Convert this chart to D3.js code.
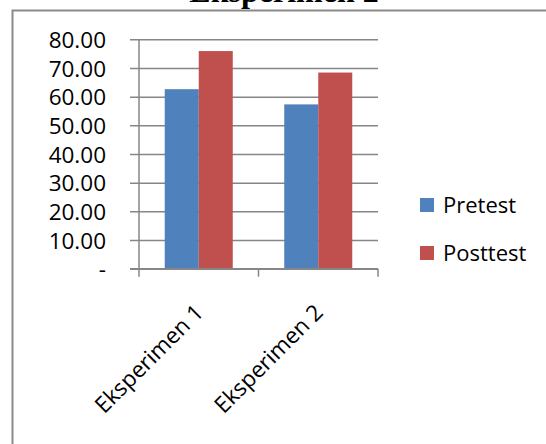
<!DOCTYPE html>
<html>
<head>
<meta charset="utf-8">
<script src="https://cdn.jsdelivr.net/npm/d3@7"></script>
<style>
  html, body { margin: 0; padding: 0; background: #fff; }
  svg { display: block; }
</style>
</head>
<body>
<svg id="chart" width="546" height="444"></svg>
<script>
// Mean scores per experiment group
const categories = ["Eksperimen 1", "Eksperimen 2"];
const seriesNames = ["Pretest", "Posttest"];
const pretest = [62.6, 57.3];
const posttest = [75.9, 68.4];
const yTickValues = [0, 10, 20, 30, 40, 50, 60, 70, 80];
const yTickLabels = ["-", "10.00", "20.00", "30.00", "40.00", "50.00", "60.00", "70.00", "80.00"];
const titleText = "Eksperimen 2";

const colors = { Pretest: "#4F81BD", Posttest: "#C0504D" };
const gridColor = "#868686";
const font = "'Open Sans', 'DejaVu Sans', sans-serif";

const svg = d3.select("#chart");

// outer chart frame
svg.append("rect")
  .attr("x", 12.5).attr("y", 10.5)
  .attr("width", 600).attr("height", 500)
  .attr("fill", "none").attr("stroke", "#8a8a8a").attr("stroke-width", 2);

// title (partly above the page edge)
svg.append("text")
  .attr("x", 284).attr("y", 2)
  .attr("text-anchor", "middle")
  .attr("font-family", "'Liberation Serif', 'Times New Roman', serif")
  .attr("font-weight", "bold").attr("font-size", 32)
  .text(titleText);

const plot = { left: 139, right: 378, top: 39.3, bottom: 268.7 };

const y = d3.scaleLinear().domain([0, 80]).range([plot.bottom, plot.top]);
const x = d3.scaleBand().domain(categories).range([plot.left, plot.right]).padding(0);
const xSub = d3.scaleBand().domain(seriesNames).range([0, x.bandwidth()])
  .paddingInner(0).paddingOuter(0.757);

// y axis with gridlines extending left as tick marks
const yAxis = d3.axisLeft(y)
  .tickValues(yTickValues)
  .tickFormat((d, i) => yTickLabels[i])
  .tickSizeOuter(0)
  .tickPadding(27);
const gy = svg.append("g").attr("transform", `translate(${plot.left},0)`).call(yAxis);
gy.select(".domain").remove();
gy.selectAll(".tick line")
  .attr("x1", -9).attr("x2", plot.right - plot.left)
  .attr("stroke", gridColor).attr("stroke-width", 1.5);
gy.selectAll(".tick text")
  .attr("font-family", font).attr("font-size", 22.5).attr("fill", "#000")
  .attr("dy", "0.36em");

// vertical axis line
svg.append("line")
  .attr("x1", plot.left).attr("x2", plot.left)
  .attr("y1", plot.top).attr("y2", plot.bottom + 8)
  .attr("stroke", gridColor).attr("stroke-width", 1.5);

// category boundary ticks
const bounds = categories.map(c => x(c) + x.bandwidth());
svg.selectAll("line.ctick").data(bounds).join("line")
  .attr("class", "ctick")
  .attr("x1", d => d).attr("x2", d => d)
  .attr("y1", plot.bottom).attr("y2", plot.bottom + 8)
  .attr("stroke", gridColor).attr("stroke-width", 1.5);

// bars
const rows = categories.map((c, i) => ({ cat: c, Pretest: pretest[i], Posttest: posttest[i] }));
const groups = svg.selectAll("g.grp").data(rows).join("g")
  .attr("class", "grp")
  .attr("transform", d => `translate(${x(d.cat)},0)`);
groups.selectAll("rect").data(d => seriesNames.map(s => ({ s, v: d[s] }))).join("rect")
  .attr("x", d => xSub(d.s))
  .attr("width", xSub.bandwidth())
  .attr("y", d => y(d.v))
  .attr("height", d => y(0) - y(d.v))
  .attr("fill", d => colors[d.s]);

// zero baseline on top of bars
svg.append("line")
  .attr("x1", plot.left - 9).attr("x2", plot.right)
  .attr("y1", y(0)).attr("y2", y(0))
  .attr("stroke", gridColor).attr("stroke-width", 1.5);

// rotated category labels
svg.selectAll("text.cat").data(categories).join("text")
  .attr("class", "cat")
  .attr("text-anchor", "end")
  .attr("font-family", font).attr("font-size", 22.5)
  .attr("transform", d => `translate(${x(d) + x.bandwidth() / 2 + 6},314) rotate(-45)`)
  .text(d => d);

// legend
const legend = svg.append("g").attr("transform", "translate(420,198)");
legend.selectAll("g").data(seriesNames).join("g")
  .attr("transform", (d, i) => `translate(0,${i * 48})`)
  .each(function (d) {
    const g = d3.select(this);
    g.append("rect").attr("width", 14).attr("height", 14).attr("fill", colors[d]);
    g.append("text").attr("x", 23).attr("y", 15)
      .attr("font-family", font).attr("font-size", 22).text(d);
  });
</script>
</body>
</html>
